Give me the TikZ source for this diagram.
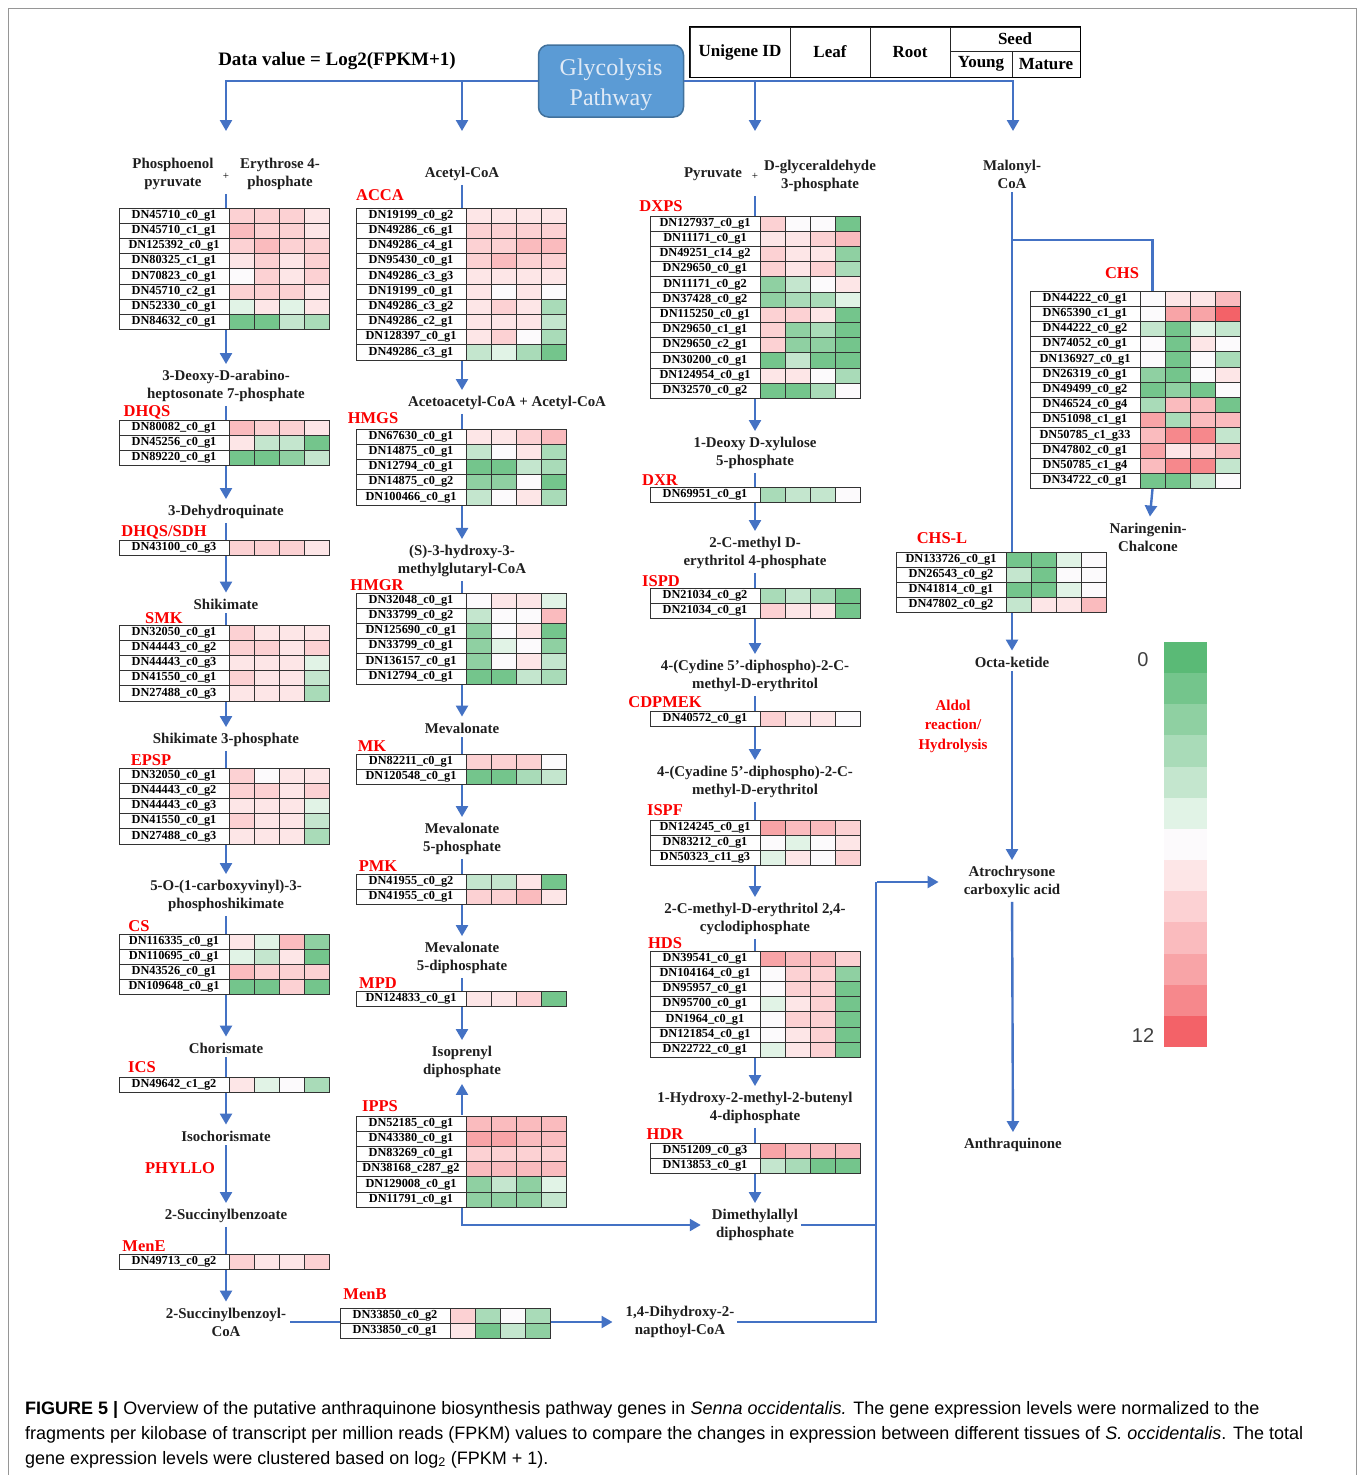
\documentclass[tikz,border=0pt]{standalone}
\usepackage{fontspec}
\setmainfont{Liberation Serif}
\newfontfamily\capfont{Liberation Sans}
\usetikzlibrary{arrows.meta}

\definecolor{flowblue}{RGB}{68,114,196}
\definecolor{glyfill}{RGB}{91,155,213}
\definecolor{glydraw}{RGB}{65,113,156}
\definecolor{glytext}{RGB}{224,234,246}
\definecolor{enzred}{RGB}{250,0,0}
\definecolor{framegray}{RGB}{150,150,150}
\definecolor{hgreen}{RGB}{90,186,118}
\definecolor{hred}{RGB}{243,98,104}
\colorlet{h0}{hgreen}
\colorlet{h1}{hgreen!84!white}
\colorlet{h2}{hgreen!68!white}
\colorlet{h3}{hgreen!52!white}
\colorlet{h4}{hgreen!36!white}
\colorlet{h5}{hgreen!18!white}
\definecolor{h6}{RGB}{252,250,252}
\colorlet{h7}{hred!16!white}
\colorlet{h8}{hred!29!white}
\colorlet{h9}{hred!43!white}
\colorlet{h10}{hred!58!white}
\colorlet{h11}{hred!76!white}
\colorlet{h12}{hred}

\newcommand\metfont{\fontsize{14.9}{18}\selectfont\bfseries}
\newcommand\enzfont{\fontsize{16.5}{18}\selectfont\bfseries}
\newcommand\idfont{\fontsize{12.3}{12}\selectfont\bfseries}
\newcommand\hdrfont{\fontsize{17}{18}\selectfont\bfseries}
\newcommand\capsize{\capfont\fontsize{18}{20}\selectfont}

\tikzset{
  met/.style={font=\metfont, align=center, inner sep=3pt, text=black!88},
  plus/.style={font=\fontsize{11}{12}\selectfont, inner sep=1pt},
  enz/.style={font=\enzfont, text=enzred, inner sep=0pt},
  idcell/.style={draw=black!80, line width=0.8pt, fill=white, minimum width=110pt, minimum height=15.2pt, inner sep=0pt, font=\idfont},
  heatcell/.style={draw=black!80, line width=0.8pt, minimum width=25pt, minimum height=15.2pt, inner sep=0pt},
  flowline/.style={draw=flowblue, line width=2.4pt},
  flow/.style={flowline, -{Triangle[length=11pt,width=12pt]}, shorten <=1pt, shorten >=3pt},
  hdrcell/.style={draw=black!85, line width=0.8pt, inner sep=0pt, font=\hdrfont},
  legcell/.style={minimum width=43pt, minimum height=31.2pt, inner sep=0pt},
  capline/.style={anchor=base west, inner sep=0pt, font=\capsize},
}

\newcommand\heattable[4]{%
  \foreach \dn/\cn/\gn/\hA/\hB/\hC/\hD [count=\r from 0] in {#4}{
    \node[idcell] (#1-\r) at (#2+55,#3+7.6+15.2*\r) {DN\dn\_\cn\_\gn};
    \foreach \hv [count=\k from 0] in {\hA,\hB,\hC,\hD}
      \node[heatcell,fill=h\hv] (#1-\r-\k) at (#2+122.5+25*\k,#3+7.6+15.2*\r) {};
  }
}

\begin{document}
\begin{tikzpicture}[x=1pt,y=-1pt]
\useasboundingbox (0,0) rectangle (1358,1475);
\draw[framegray, line width=1pt] (8,1475) -- (8,8) -- (1356,8) -- (1356,1475);

\node[font=\fontsize{19}{22}\selectfont\bfseries] (dval) at (337,61) {Data value = Log2(FPKM+1)};
\node[draw=glydraw, line width=1.5pt, fill=glyfill, rounded corners=10pt, minimum width=145pt, minimum height=72pt] (glyco) at (611,81) {};
\node[align=center, text=glytext, font=\fontsize{24}{30}\selectfont] (glytxt) at (611,85) {Glycolysis\\Pathway};

\node[hdrcell, minimum width=100pt, minimum height=50pt] (hid) at (740,52) {Unigene ID};
\node[hdrcell, minimum width=80pt, minimum height=50pt] (hleaf) at (830,52) {Leaf};
\node[hdrcell, minimum width=80pt, minimum height=50pt] (hroot) at (910,52) {Root};
\node[hdrcell, minimum width=130pt, minimum height=24pt] (hseed) at (1015,39) {Seed};
\node[hdrcell, minimum width=62pt, minimum height=26pt] (hyoung) at (981,64) {Young};
\node[hdrcell, minimum width=68pt, minimum height=26pt] (hmature) at (1046,64) {Mature};
\draw[line width=1.6pt] (hid.north west) rectangle (hmature.south east);

\coordinate (t2) at (462,82);
\coordinate (t3) at (755,82);
\coordinate (b1) at (226,134);
\coordinate (b2) at (462,134);
\coordinate (b3) at (755,134);
\coordinate (b4) at (1013,134);
\draw[flow, shorten <=0pt] (glyco) -| (b1);
\draw[flow, shorten <=0pt] (glyco) -| (b4);
\draw[flow, shorten <=0pt] (t2) -- (b2);
\draw[flow, shorten <=0pt] (t3) -- (b3);

% shikimate branch
\node[met] (pep) at (173,174) {Phosphoenol\\pyruvate};
\node[plus] (plus1) at (226,176) {+};
\node[met] (e4p) at (280,174) {Erythrose 4-\\phosphate};
\node[met] (dahp) at (226,386) {3-Deoxy-D-arabino-\\heptosonate 7-phosphate};
\node[met] (dhq) at (226,512) {3-Dehydroquinate};
\node[met] (shik) at (226,604) {Shikimate};
\node[met] (s3p) at (226,740) {Shikimate 3-phosphate};
\node[met] (cvps) at (226,896) {5-O-(1-carboxyvinyl)-3-\\phosphoshikimate};
\node[met] (chor) at (226,1048) {Chorismate};
\node[met] (isoch) at (226,1136) {Isochorismate};
\node[met] (osb) at (226,1216) {2-Succinylbenzoate};
\node[met] (osbcoa) at (226,1322) {2-Succinylbenzoyl-\\CoA};
\node[met] (dhna) at (680,1322) {1,4-Dihydroxy-2-\\napthoyl-CoA};

% mevalonate branch
\node[met] (acoa) at (462,174) {Acetyl-CoA};
\node[met] (aacoa) at (507,403) {Acetoacetyl-CoA + Acetyl-CoA};
\node[met] (hmgcoa) at (462,561) {(S)-3-hydroxy-3-\\methylglutaryl-CoA};
\node[met] (mva) at (462,728) {Mevalonate};
\node[met] (mvap) at (462,839) {Mevalonate\\5-phosphate};
\node[met] (mvapp) at (462,958) {Mevalonate\\5-diphosphate};
\node[met] (ipp) at (462,1062) {Isoprenyl\\diphosphate};

% MEP branch
\node[met] (pyr) at (713,174) {Pyruvate};
\node[plus] (plus2) at (755,176) {+};
\node[met] (g3p) at (820,176) {D-glyceraldehyde\\3-phosphate};
\node[met] (dxp) at (755,453) {1-Deoxy D-xylulose\\5-phosphate};
\node[met] (mep) at (755,553) {2-C-methyl D-\\erythritol 4-phosphate};
\node[met] (cdpme) at (755,676) {4-(Cydine 5'-diphospho)-2-C-\\methyl-D-erythritol};
\node[met] (cdpmep) at (755,782) {4-(Cyadine 5'-diphospho)-2-C-\\methyl-D-erythritol};
\node[met] (mecpp) at (755,919) {2-C-methyl-D-erythritol 2,4-\\cyclodiphosphate};
\node[met] (hmbpp) at (755,1108) {1-Hydroxy-2-methyl-2-butenyl\\4-diphosphate};
\node[met] (dmapp) at (755,1225) {Dimethylallyl\\diphosphate};

% polyketide branch
\node[met] (malcoa) at (1012,174) {Malonyl-\\CoA};
\node[met] (narch) at (1148,537) {Naringenin-\\Chalcone};
\node[met] (octa) at (1012,662) {Octa-ketide};
\node[met] (atro) at (1012,882) {Atrochrysone\\carboxylic acid};
\node[met] (anthra) at (1013,1145) {Anthraquinone};
\node[enz, align=center, font=\fontsize{15}{19.5}\selectfont\bfseries] (aldol) at (953,726) {Aldol\\reaction/\\Hydrolysis};

\draw[flow] (plus1 |- pep.south) -- (dahp);
\draw[flow] (dahp) -- (dhq);
\draw[flow] (dhq) -- (shik);
\draw[flow] (shik) -- (s3p);
\draw[flow] (s3p) -- (cvps);
\draw[flow] (cvps) -- (chor);
\draw[flow] (chor) -- (isoch);
\draw[flow] (isoch) -- (osb);
\draw[flow] (osb) -- (osbcoa);
\draw[flow, shorten >=10pt] (osbcoa) -- (dhna);

\draw[flow] (acoa) -- (acoa |- aacoa.north);
\draw[flow] (acoa |- aacoa.south) -- (hmgcoa);
\draw[flow] (hmgcoa) -- (mva);
\draw[flow] (mva) -- (mvap);
\draw[flow] (mvap) -- (mvapp);
\draw[flow] (mvapp) -- (ipp);

\draw[flow] (plus2 |- g3p.south) -- (dxp);
\draw[flow] (dxp) -- (mep);
\draw[flow] (mep) -- (cdpme);
\draw[flow] (cdpme) -- (cdpmep);
\draw[flow] (cdpmep) -- (mecpp);
\draw[flow] (mecpp) -- (hmbpp);
\draw[flow] (hmbpp) -- (dmapp);

\coordinate (bus) at (876,882);
\coordinate (br) at (1013,240);
\draw[flow] (malcoa) -- (octa);
\draw[flow] (octa) -- (atro);
\draw[flow] (atro) -- (anthra);
\draw[flowline] (dhna) -| (bus);
\draw[flowline] (dmapp) -- (dmapp -| bus);
\draw[flow, shorten >=22pt] (bus) -- (atro.west);

% enzymes and expression
\node[enz] (dhqs) at (147,412) {DHQS};
\node[enz] (sdh) at (164,532) {DHQS/SDH};
\node[enz] (smk) at (164,618) {SMK};
\node[enz] (epsps) at (151,760) {EPSP};
\node[enz] (cs) at (139,926) {CS};
\node[enz] (ics) at (142,1067) {ICS};
\node[enz] (phyllo) at (180,1168) {PHYLLO};
\node[enz] (mene) at (144,1246) {MenE};
\node[enz] (menb) at (365,1294) {MenB};
\node[enz] (acca) at (380,195) {ACCA};
\node[enz] (hmgs) at (373,418) {HMGS};
\node[enz] (hmgr) at (377,585) {HMGR};
\node[enz] (mk) at (372,746) {MK};
\node[enz] (pmk) at (378,866) {PMK};
\node[enz] (mpd) at (378,983) {MPD};
\node[enz] (ipps) at (380,1106) {IPPS};
\node[enz] (dxps) at (661,206) {DXPS};
\node[enz] (dxr) at (660,480) {DXR};
\node[enz] (ispd) at (661,581) {ISPD};
\node[enz] (cdpmek) at (665,702) {CDPMEK};
\node[enz] (ispf) at (665,810) {ISPF};
\node[enz] (hds) at (665,943) {HDS};
\node[enz] (hdr) at (665,1134) {HDR};
\node[enz] (chs) at (1122,273) {CHS};
\node[enz] (chsl) at (942,538) {CHS-L};

\heattable{tpep}{119}{208}{45710/c0/g1/8/8/8/7,45710/c1/g1/9/8/8/7,125392/c0/g1/8/9/8/8,80325/c1/g1/7/8/7/8,70823/c0/g1/6/8/7/8,45710/c2/g1/8/8/8/7,52330/c0/g1/5/7/5/7,84632/c0/g1/1/1/4/3}
\heattable{tdhqs}{119}{420}{80082/c0/g1/9/8/8/7,45256/c0/g1/7/4/4/1,89220/c0/g1/1/1/2/4}
\heattable{tsdh}{119}{540}{43100/c0/g3/8/8/8/7}
\heattable{tsmk}{119}{625}{32050/c0/g1/8/7/7/7,44443/c0/g2/8/8/7/8,44443/c0/g3/7/7/7/5,41550/c0/g1/8/7/7/4,27488/c0/g3/7/7/7/3}
\heattable{tepsp}{119}{768}{32050/c0/g1/8/6/7/7,44443/c0/g2/8/8/7/8,44443/c0/g3/7/7/7/5,41550/c0/g1/8/7/7/4,27488/c0/g3/7/7/7/3}
\heattable{tcs}{119}{934}{116335/c0/g1/7/5/9/2,110695/c0/g1/5/4/7/1,43526/c0/g1/9/8/8/8,109648/c0/g1/1/1/8/1}
\heattable{tics}{119}{1077}{49642/c1/g2/7/5/6/3}
\heattable{tmene}{119}{1254}{49713/c0/g2/8/7/7/8}
\heattable{tmenb}{340}{1308}{33850/c0/g2/8/3/6/3,33850/c0/g1/7/1/4/2}

\heattable{tacca}{356}{208}{19199/c0/g2/7/7/7/7,49286/c6/g1/8/8/8/8,49286/c4/g1/8/8/9/9,95430/c0/g1/8/9/8/8,49286/c3/g3/7/7/7/7,19199/c0/g1/7/6/7/6,49286/c3/g2/7/8/7/3,49286/c2/g1/7/7/7/4,128397/c0/g1/7/8/6/3,49286/c3/g1/4/5/3/1}
\heattable{thmgs}{356}{429}{67630/c0/g1/7/7/8/9,14875/c0/g1/4/6/7/3,12794/c0/g1/1/1/4/3,14875/c0/g2/2/2/6/1,100466/c0/g1/4/6/7/3}
\heattable{thmgr}{356}{593}{32048/c0/g1/6/7/7/5,33799/c0/g2/4/6/6/9,125690/c0/g1/2/6/7/1,33799/c0/g1/2/5/6/2,136157/c0/g1/2/6/7/4,12794/c0/g1/1/1/4/3}
\heattable{tmk}{356}{754}{82211/c0/g1/8/8/8/6,120548/c0/g1/1/1/3/4}
\heattable{tpmk}{356}{874}{41955/c0/g2/4/4/7/1,41955/c0/g1/8/8/9/7}
\heattable{tmpd}{356}{991}{124833/c0/g1/7/7/8/1}
\heattable{tipps}{356}{1116}{52185/c0/g1/9/9/9/9,43380/c0/g1/10/10/9/9,83269/c0/g1/8/8/8/8,38168/c287/g2/9/9/9/9,129008/c0/g1/2/4/2/5,11791/c0/g1/2/2/2/4}

\heattable{tdxps}{650}{216}{127937/c0/g1/8/6/6/1,11171/c0/g1/7/7/8/9,49251/c14/g2/8/7/7/2,29650/c0/g1/8/7/8/3,11171/c0/g2/2/4/6/7,37428/c0/g2/2/3/3/5,115250/c0/g1/8/8/7/1,29650/c1/g1/8/2/3/1,29650/c2/g1/8/2/2/1,30200/c0/g1/1/4/1/1,124954/c0/g1/7/7/6/3,32570/c0/g2/1/1/3/6}
\heattable{tdxr}{650}{487}{69951/c0/g1/3/4/4/6}
\heattable{tispd}{650}{588}{21034/c0/g2/3/4/3/1,21034/c0/g1/8/7/7/1}
\heattable{tcdpmek}{650}{711}{40572/c0/g1/8/7/7/6}
\heattable{tispf}{650}{820}{124245/c0/g1/10/9/9/8,83212/c0/g1/6/5/6/7,50323/c11/g3/5/7/6/8}
\heattable{thds}{650}{951}{39541/c0/g1/10/9/9/8,104164/c0/g1/6/8/8/2,95957/c0/g1/6/8/8/1,95700/c0/g1/5/7/8/1,1964/c0/g1/6/8/8/1,121854/c0/g1/6/7/8/1,22722/c0/g1/5/7/8/1}
\heattable{thdr}{650}{1143}{51209/c0/g3/10/9/9/9,13853/c0/g1/4/3/1/1}

\heattable{tchs}{1030}{291}{44222/c0/g1/6/7/7/9,65390/c1/g1/6/10/10/12,44222/c0/g2/4/1/5/4,74052/c0/g1/6/1/7/6,136927/c0/g1/6/1/6/3,26319/c0/g1/2/1/6/7,49499/c0/g2/1/2/1/6,46524/c0/g4/3/9/9/1,51098/c1/g1/10/3/9/9,50785/c1/g33/9/11/11/4,47802/c0/g1/10/7/8/9,50785/c1/g4/9/11/11/4,34722/c0/g1/1/1/4/6}
\heattable{tchsl}{896}{552}{133726/c0/g1/1/1/5/6,26543/c0/g2/4/1/6/6,41814/c0/g1/1/1/5/6,47802/c0/g2/4/7/7/9}

\draw[flow] (ipp.south |- tipps-0.north) -- (ipp);
\draw[flow, shorten <=0pt, shorten >=8pt] (ipp.south |- tipps-5.south) |- (dmapp);
\draw[flowline] (br) -| (tchs-0-0.north);
\draw[flow, shorten <=0pt] (tchs-12-0.south) -- (narch);

% colour key
\foreach \k in {0,...,12}
  \node[legcell, fill=h\k] (key-\k) at (1185.5,657.6+31.15*\k) {};
\node[font=\capfont\fontsize{20}{22}\selectfont, text=black!75] (key0) at (1143,660) {0};
\node[font=\capfont\fontsize{20}{22}\selectfont, text=black!75] (key12) at (1143,1036) {12};

% caption
\node[capline] (cap1) at (25,1414) {\textbf{FIGURE 5 |} Overview of the putative anthraquinone biosynthesis pathway genes in \textit{Senna occidentalis.} The gene expression levels were normalized to the};
\node[capline] (cap2) at (25,1439) {fragments per kilobase of transcript per million reads (FPKM) values to compare the changes in expression between different tissues of \textit{S. occidentalis}. The total};
\node[capline] (cap3) at (25,1464) {gene expression levels were clustered based on log\textsubscript{2} (FPKM + 1).};
\end{tikzpicture}
\end{document}
